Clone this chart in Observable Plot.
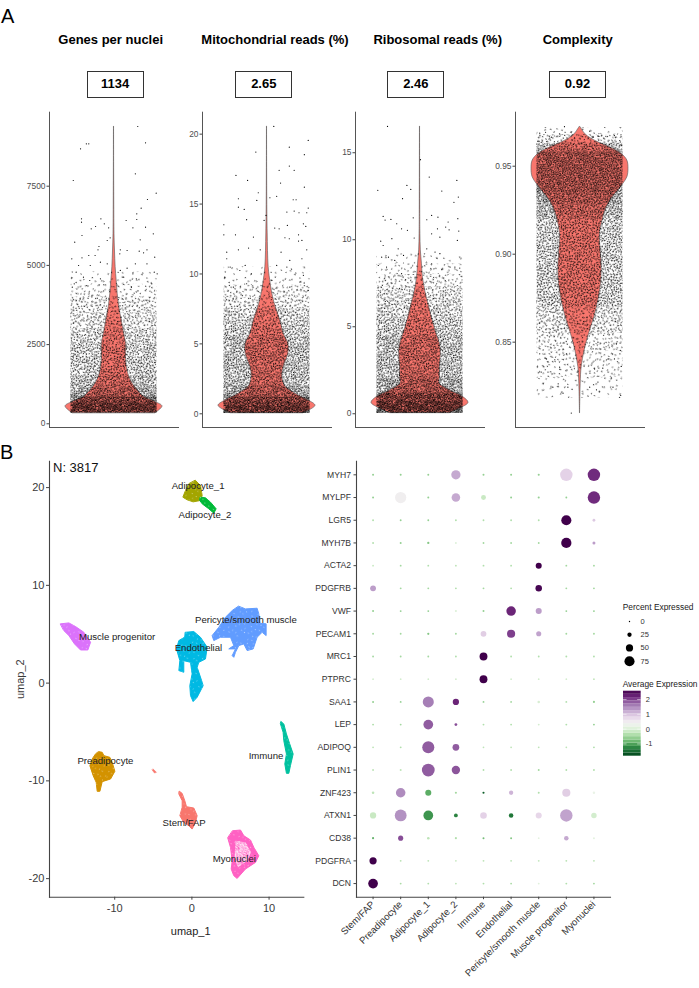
<!DOCTYPE html>
<html><head><meta charset="utf-8">
<script src="https://cdn.jsdelivr.net/npm/d3@7"></script>
<script src="https://cdn.jsdelivr.net/npm/@observablehq/plot@0.6"></script>
<style>
html,body{margin:0;padding:0;background:#fff}
#page{position:relative;width:699px;height:988px;overflow:hidden;font-family:"Liberation Sans",Arial,sans-serif;color:#000}
#page svg{position:absolute;overflow:visible}
.t{position:absolute;white-space:nowrap}
.head{font-weight:bold;font-size:13px;transform:translateX(-50%)}
.box{border:1.2px solid #333;box-sizing:border-box;font-weight:bold;font-size:13px;text-align:center;line-height:24px;height:26.5px;width:57px}
.tag{font-size:20px}
.leg{font-size:8.4px;color:#222}
</style></head><body><div id="page"></div>
<script>
// ---------- panel A: violins. outline rows = [value, half width (1 = widest)]
const genesOutline=[[337,.86],[547,1],[684,.86],[842,.62],[947,.55],[1262,.385],[1578,.295],[2000,.25],[2525,.25],[2840,.21],[3261,.16],[3682,.11],[4103,.076],[4524,.055],[4944,.034],[5470,.02],[5996,.01],[7048,.005],[9384,.001]];
const mitoOutline=[[.05,.76],[.57,1],[.95,.86],[1.31,.65],[1.67,.48],[1.91,.385],[2.62,.316],[3.34,.344],[4.29,.44],[5,.44],[5.72,.344],[6.68,.275],[7.63,.18],[8.58,.11],[9.3,.076],[10.5,.034],[12.9,.014],[15.26,.0055],[20.55,.001]];
const riboOutline=[[.04,.62],[.34,.86],[.63,1],[.96,.89],[1.34,.62],[1.72,.41],[2.11,.41],[2.68,.41],[3.45,.43],[4.02,.41],[4.6,.34],[5.36,.26],[6.13,.19],[6.9,.12],[7.85,.06],[8.62,.04],[9.39,.017],[10.34,.008],[11.49,.005],[16.51,.001]];
const complexityOutline=[[.8097,.001],[.8263,.014],[.8358,.034],[.8453,.096],[.8547,.186],[.8642,.296],[.8737,.378],[.8831,.433],[.8926,.447],[.9021,.426],[.9116,.412],[.921,.481],[.9267,.55],[.9324,.674],[.9362,.79],[.94,.893],[.9437,.976],[.9485,1],[.9532,.976],[.957,.859],[.9598,.687],[.9627,.447],[.9655,.24],[.9684,.103],[.9712,.034],[.9725,.001]];

// density of the jittered points per value band: [from, to, points per square pixel]
const genesBands=[[337,650,.8],[650,850,.65],[850,1134,.4],[1134,1500,.3],[1500,2500,.25],[2500,3000,.2],[3000,3500,.16],[3500,4000,.125],[4000,4400,.06],[4400,4800,.03]];
const mitoBands=[[.02,.6,.8],[.6,1.2,.65],[1.2,2,.4],[2,5.5,.3],[5.5,6.5,.25],[6.5,7.5,.2],[7.5,8.3,.125],[8.3,9.2,.09],[9.2,10.5,.03]];
const riboBands=[[.02,.7,.8],[.7,1.2,.65],[1.2,2,.4],[2,4.5,.3],[4.5,5.5,.25],[5.5,6.5,.2],[6.5,7.3,.16],[7.3,8,.09],[8,8.6,.05],[8.6,9.2,.025]];
const complexityBands=[[.818,.83,.03],[.83,.845,.06],[.845,.855,.09],[.855,.87,.16],[.87,.92,.25],[.92,.928,.33],[.928,.935,.4],[.935,.958,.5],[.958,.963,.3],[.963,.968,.125],[.968,.972,.03]];

// sparse points: [jitter, value]
const genesDots=[[-.69,8679],[-.57,8837],[-.52,8837],[.49,9384],[.65,8868],[.44,7890],[-.84,7680],[.87,7280],[.69,7080],[.56,6806],[.47,6628],[.47,6449],[.25,6417],[-.27,6470],[-.67,6470],[-.67,6365],[-.47,6154],[-.38,6228],[-.2,6312],[-.11,6186],[.39,6186],[.65,6207],[.81,5996],[-.66,5944],[-.81,5733],[-.08,5870],[-.14,5786],[.54,5807],[-.31,5597],[-.33,5491],[.13,5491],[.27,5470],[.12,5365],[.52,5449],[.68,5491],[.61,5397],[-.52,5313],[-.39,5313],[-.66,5239],[-.87,5207],[.84,5260],[-.73,4997],[-.78,4787],[-.49,4997],[-.28,5102],[-.14,5050],[.13,4840],[.27,4913],[.44,5050],[.68,5050],[.83,4787],[.89,4734],[.39,4734],[.46,4576],[-.63,4629],[-.5,4524],[-.86,4313],[-.82,4418],[-.28,4576],[.78,4418],[-.56,4366],[.36,4313],[.2,4629]];
const mitoDots=[[.14,20.55],[.85,19.55],[.46,19.07],[.77,18.53],[-.23,18.72],[-.64,17.05],[-.4,16.69],[.25,17.41],[.46,17.72],[.56,17.41],[.28,16.5],[.77,16.21],[-.18,15.81],[-.21,15.26],[-.59,15.38],[.2,15.55],[.06,15.45],[.54,15.31],[.6,15.31],[-.59,14.78],[-.47,14.62],[.85,14.71],[.41,14.43],[.56,14.5],[.66,14.38],[.82,14.38],[-.02,14.19],[-.06,13.83],[-.42,13.88],[-.89,13.52],[.75,13.59],[.8,13.4],[.42,13.47],[.16,13.28],[.25,13.23],[.65,12.8],[-.89,12.8],[-.65,12.8],[-.28,12.64],[.37,12.59],[.46,12.52],[.65,12.35],[.72,12.4],[-.59,11.73],[-.38,11.85],[-.14,11.73],[-.83,11.56],[.29,11.56],[.82,11.73],[-.83,11.09],[.47,10.97],[.72,11.09],[-.76,10.49],[-.45,10.61],[.2,10.61],[.41,10.49],[.75,9.9],[-.56,10.25],[-.87,9.78],[-.32,10.01],[.1,9.54],[.47,9.06],[.68,9.42],[.85,8.82],[-.69,9.06],[-.42,9.3]];
const riboDots=[[-.67,16.51],[.01,14.6],[.19,13.6],[.76,13.41],[-.27,13.12],[-.19,12.89],[-.87,12.84],[.45,12.8],[.79,12.45],[-.36,12.36],[.7,12.15],[-.76,11.34],[-.6,11.17],[-.14,11.26],[.24,11.4],[.37,11.3],[.14,11.15],[-.72,11.13],[-.48,10.92],[.58,11.02],[.78,11.21],[-.38,10.63],[-.26,10.54],[.36,10.63],[.53,10.73],[.6,10.57],[.8,10.5],[.24,10.34],[.41,10.15],[-.12,10.1],[-.58,10.06],[-.81,9.92],[.77,9.96],[-.76,9.67],[-.45,9.48],[.14,9.48],[.31,9.29],[.41,9.2],[-.65,9],[-.34,9.1],[-.79,9],[-.52,8.81],[.24,8.62],[.62,8.43],[.82,8.37],[-.86,8.52],[.45,8.28],[-.38,8.05],[.72,8.43],[-.69,8.43],[-.1,7.85]];
const complexityDots=[[-.32,.9725],[-.83,.9688],[-.71,.9693],[-.42,.9684],[-.59,.9665],[.2,.9699],[.39,.9669],[.71,.9674],[.27,.9665],[-.87,.9642],[.82,.9646],[.85,.9617],[-.8,.9636],[.61,.9623],[-.18,.8097],[.84,.8197],[-.56,.8244],[-.35,.821],[-.45,.8263],[-.25,.8244],[.34,.8229],[.2,.8244],[.68,.8244],[.37,.8273],[-.8,.833],[-.66,.833],[-.42,.8358],[-.52,.84],[-.69,.8405],[.3,.8348],[.47,.8352],[.85,.8362],[.71,.8405],[.58,.8405],[-.83,.8434],[-.28,.8434],[.27,.8462],[.37,.85],[.75,.849],[.83,.8453]];

const genesTicks=[0,2500,5000,7500], mitoTicks=[0,5,10,15,20], riboTicks=[0,5,10,15], complexityTicks=[.85,.9,.95];
const violinTitles=["Genes per nuclei","Mitochondrial reads (%)","Ribosomal reads (%)","Complexity"];
const medians=["1134","2.65","2.46","0.92"];

// ---------- panel B: UMAP outlines [umap_1, umap_2]
const clusterNames=["Adipocyte_1","Adipocyte_2","Pericyte/smooth muscle","Endothelial","Muscle progenitor","Immune","Preadipocyte","Stem/FAP","Myonuclei"];
const clusterColors=["#A3A500","#00BA38","#619CFF","#00B9E3","#DB72FB","#00C19F","#D39200","#F8766D","#FF61C3"];
const adipocyte1=[[.47,20.73],[1.11,20.21],[1.33,19.19],[1.11,18.68],[.16,18.54],[-.61,18.75],[-1.17,19.02],[-.83,19.7],[-.4,20.38]];
const adipocyte2=[[1.11,19.02],[1.76,18.95],[2.41,18.51],[3.14,17.83],[2.84,17.38],[2.19,17.83],[1.33,18.34],[1.03,18.68]];
const pericyte=[[6.08,7.86],[6.95,7.59],[8.45,7.66],[8.67,7.08],[8.8,6.12],[9.62,6.06],[9.62,4.86],[9.1,5.2],[8.45,4.69],[7.94,3.5],[7.16,3.33],[6.73,4.01],[6.08,3.84],[5.65,3.16],[5.43,2.64],[5.22,2.81],[5.65,3.5],[4.78,3.5],[5.43,3.84],[5,4.69],[3.7,4.69],[2.84,4.35],[2.62,4.86],[3.49,5.71],[4.35,6.74],[5.22,7.42]];
const endothelial=[[-.83,5.2],[.25,5.27],[1.11,4.69],[1.98,3.67],[1.76,2.47],[.9,2.13],[.68,1.62],[1.33,.09],[1.46,-.26],[.68,-1.45],[.16,-1.89],[-.18,-1.28],[-.27,-.26],[.03,.94],[-.18,2.13],[-1.05,2.3],[-1.05,1.11],[-1.69,1.28],[-1.56,2.3],[-2,3.5],[-1.69,4.35],[-.96,4.69]];
const muscleProgenitor=[[-17.02,6.06],[-15.94,6.16],[-15.07,5.78],[-14,5.2],[-13.13,4.18],[-13.48,3.39],[-14.43,3.39],[-15.21,4.01],[-15.94,4.86],[-16.59,5.37]];
const immune=[[11.56,-3.94],[11.91,-4.18],[12.25,-5.2],[12.68,-6.23],[13.12,-7.25],[12.77,-8.44],[12.56,-9.23],[12.25,-9.23],[12.04,-8.27],[12.25,-7.25],[11.91,-5.89],[11.82,-5.03],[11.48,-4.18]];
const preadipocyte=[[-12.05,-7.01],[-11.62,-7.08],[-11.4,-7.42],[-10.63,-7.59],[-10.33,-8.1],[-9.98,-9.02],[-10.54,-9.81],[-11.62,-10.08],[-11.92,-11.07],[-12.27,-11.07],[-12.4,-10.15],[-12.79,-9.47],[-13.22,-8.45],[-12.92,-7.76],[-12.49,-7.25]];
const stemFap=[[-1.61,-11.07],[-1.26,-11.28],[-.92,-12.03],[-.7,-12.64],[.25,-12.78],[.68,-13.56],[.47,-14.25],[.03,-14.93],[-.4,-14.59],[-1.05,-14.25],[-1.56,-13.56],[-1.26,-12.71],[-1.26,-12.03],[-1.69,-11.34]];
const myonuclei=[[5.3,-15.1],[6.3,-15.03],[6.73,-15.61],[7.59,-16.05],[8.02,-16.8],[8.67,-17.66],[8.24,-18.34],[6.94,-19.02],[5.86,-19.98],[5.43,-19.7],[5.09,-19.02],[5.22,-18.17],[5,-16.8],[4.65,-15.85]];
const clusterOutlines=[adipocyte1,adipocyte2,pericyte,endothelial,muscleProgenitor,immune,preadipocyte,stemFap,myonuclei];
const myonucleiSparse=[[5.65,-16.12],[6.94,-16.29],[7.68,-17.31],[7.16,-18.17],[5.95,-18.85],[5.52,-17.83]];
const strayCluster=[[-5.02,-8.79],[-4.59,-9.13],[-4.85,-9.2],[-5.15,-8.89]];
const clusterLabelX=[.8,1.7,7,.85,-9.7,9.6,-11.2,-1,5.5];
const clusterLabelY=[20.2,17.25,6.5,3.63,4.7,-7.4,-7.93,-14.3,-18];
const nucleiCount="N: 3817";
const umapXTitle="umap_1", umapYTitle="umap_2";

// ---------- panel B: dot plot
const markerGenes=["MYH7","MYLPF","LGR5","MYH7B","ACTA2","PDGFRB","VWF","PECAM1","MRC1","PTPRC","SAA1","LEP","ADIPOQ","PLIN1","ZNF423","ATXN1","CD38","PDGFRA","DCN"];
const cellTypes=["Stem/FAP","Preadipocyte","Adipocyte_1","Adipocyte_2","Immune","Endothelial","Pericyte/smooth muscle","Muscle progenitor","Myonuclei"];
const percentRows=[
[5,5,5,68,5,5,6,95,95],
[5,85,5,62,30,5,6,4,95],
[4,4,4,4,4,4,4,75,12],
[4,5,8,4,4,4,4,76,14],
[4,4,4,4,4,4,40,4,4],
[38,4,4,4,4,4,44,4,4],
[5,4,4,6,5,70,40,4,4],
[4,4,7,4,38,58,32,4,4],
[4,4,4,4,56,4,4,4,4],
[3,3,3,3,56,3,3,3,3],
[5,4,83,42,4,4,10,4,6],
[5,4,72,12,4,4,4,4,4],
[4,4,92,46,3,3,3,3,4],
[5,5,98,60,4,4,5,4,4],
[10,70,40,6,6,25,5,58,9],
[42,90,72,21,45,27,40,95,35],
[6,32,10,6,5,5,3,27,5],
[50,4,4,4,4,4,4,4,4],
[72,4,4,4,4,4,4,4,4]];
const averageRows=[
[-.6,-.6,-.6,1.2,-.6,-.6,-.6,.8,2.15],
[-.6,.42,-.6,1.2,-.2,-.6,-.6,-.6,2.15],
[-.4,-.6,-.6,-.4,-.4,-.4,-.4,2.56,.9],
[-.4,-.6,-.7,0,-.5,-.5,-.5,2.56,1.3],
[-.2,-.5,-.4,-.3,-.4,-.4,2.56,-.5,-.5],
[1.3,-.5,-.5,-.4,-.5,-.4,2.5,-.5,-.5],
[-.6,-.6,-.6,0,-.6,2.2,1.3,-.6,-.6],
[-.5,-.5,-.7,-.5,.85,2,1.25,-.5,-.5],
[-.5,-.5,-.5,-.4,2.56,-.4,-.4,-.4,-.4],
[-.1,-.1,-.1,-.1,2.56,-.1,-.1,-.1,-.3],
[-.6,-.6,1.55,2.2,-.6,-.5,-.05,-.4,-.6],
[-.4,-.5,1.8,1.9,-.4,-.4,-.1,-.4,-.6],
[-.3,-.4,1.8,1.8,-.3,-.3,-.3,-.3,-.4],
[-.3,-.3,1.8,1.85,-.4,-.4,-.5,-.4,-.4],
[-.3,1.45,-.95,-.5,-1.6,1.1,-.4,.85,.2],
[-.2,1.4,-1.15,-1.3,.8,-1.4,.75,1.25,-.1],
[-.9,1.9,-.3,-.4,-.8,-.7,.1,1.2,.1],
[2.56,-.35,-.3,-.2,-.3,-.3,-.25,-.35,-.3],
[2.56,-.45,-.4,-.3,-.4,-.45,.05,-.4,-.5]];
const legendPercents=[0,25,50,75];
const colorbarSteps=[-1.83,-1.61,-1.39,-1.17,-.95,-.73,-.51,-.29,-.07,.15,.37,.59,.81,1.03,1.25,1.47,1.69,1.91,2.13,2.35,2.56];
const colorbarTicks=[-1,0,1,2];

// hand-placed speckle tile (a fill texture for the density bands, in tile pixels)
const speckle=[[2,3],[7,16],[12,5],[17,14],[22,2],[5,9],[10,13],[15,1],[20,8],[3,17],[13,18],[18,5],[23,13],[8,1],[1,12],
[5,14],[10,7],[15,11],[20,18],[0,7],[12,1],[7,11],[6,5],[11,17],[16,8],[21,11],[2,19],[14,14],[19,2],[9,10],
[4,6],[9,3],[14,8],[19,11],[1,15],[6,18],[11,10],[16,17],[21,4],[3,12],[8,14],[13,3],[18,9],[23,17],[4,19],
[10,0],[15,5],[20,14],[0,2],[5,11],[12,13],[17,0],[22,9],[7,8],[2,9],[9,18],[14,11],[18,17],[22,19],[11,4]];

const page=document.getElementById("page");
const FONT='"Liberation Sans",Arial,sans-serif';
const place=(el,left,top)=>{el.style.position="absolute";el.style.left=left+"px";el.style.top=top+"px";page.appendChild(el);return el;};
const label=(cls,text,left,top)=>{const d=document.createElement("div");d.className="t "+cls;d.textContent=text;return place(d,left,top);};
const plain=d=>`${d}`;
const sp=(kind,d)=>`url(#${kind}${Math.round(d*1000)})`;

// speckle patterns: each density is two overlaid tiles turned different ways
{
  const s=d3.create("svg").attr("width",0).attr("height",0).style("left",0).style("top",0);
  const defs=s.append("defs");
  const add=(id,density,angle,color,r)=>{
    const scale=Math.sqrt(60/(480*density));
    const p=defs.append("pattern").attr("id",id).attr("patternUnits","userSpaceOnUse")
      .attr("width",24*scale).attr("height",20*scale).attr("patternTransform",`rotate(${angle})`);
    speckle.forEach(d=>p.append("circle").attr("cx",d[0]*scale+.3).attr("cy",d[1]*scale+.3).attr("r",r).attr("fill",color));
  };
  const all=new Set([...genesBands,...mitoBands,...riboBands,...complexityBands].map(b=>b[2]));
  all.forEach(d=>{const k=Math.round(d*1000);add("spa"+k,d/2,23,"#000",.6);add("spb"+k,d/2,-58,"#000",.6);});
  add("wsp40",.04,37,"#fff",.45);
  add("wsp600",.6,37,"#fff",.62);
  page.appendChild(s.node());
}

// titles and median boxes
label("tag","A",1,5);
label("tag","B",0,441);
[110.7,275,437.7,577.7].forEach((x,i)=>label("head",violinTitles[i],x,32));
[86.7,235.3,387.3,549].forEach((x,i)=>label("box",medians[i],x,71.3));

// violins
const violinPanels=[
 {axis:49.3,top:9836,bottom:-117,ticks:genesTicks,outline:genesOutline,bands:genesBands,dots:genesDots,fmt:"d"},
 {axis:202,top:21.57,bottom:-.98,ticks:mitoTicks,outline:mitoOutline,bands:mitoBands,dots:mitoDots,fmt:"d"},
 {axis:355.3,top:17.33,bottom:-.79,ticks:riboTicks,outline:riboOutline,bands:riboBands,dots:riboDots,fmt:"d"},
 {axis:515.3,top:.9807,bottom:.8015,ticks:complexityTicks,outline:complexityOutline,bands:complexityBands,dots:complexityDots,fmt:".2f"}];
violinPanels.forEach(p=>{
  const svg=Plot.plot({
    width:172,height:330,marginLeft:40,marginRight:3,marginTop:11.7,marginBottom:3,
    style:{fontFamily:FONT,fontSize:"8.4px",background:"transparent"},
    x:{domain:[-1.33,1.33],axis:null},
    y:{domain:[p.bottom,p.top]},
    color:{type:"identity"},
    marks:[
      Plot.areaX(p.outline,{y:d=>d[0],x1:d=>-d[1],x2:d=>d[1],fill:"#F8766D",stroke:"#555",strokeWidth:.6,curve:"catmull-rom"}),
      Plot.rect(p.bands,{x1:-.887,x2:.887,y1:d=>d[0],y2:d=>d[1],fill:d=>sp("spa",d[2])}),
      Plot.rect(p.bands,{x1:-.887,x2:.887,y1:d=>d[0],y2:d=>d[1],fill:d=>sp("spb",d[2])}),
      Plot.dot(p.dots,{x:d=>d[0],y:d=>d[1],r:.6,fill:"#000"}),
      Plot.frame({anchor:"left",stroke:"#555",strokeWidth:1}),
      Plot.frame({anchor:"bottom",stroke:"#555",strokeWidth:1}),
      Plot.axisY(p.ticks,{label:null,tickSize:2.5,tickPadding:1.5,tickFormat:p.fmt,stroke:"#444",fill:"#4d4d4d"})
    ]});
  place(svg,p.axis-40,100);
});

// UMAP
const clusterRows=clusterNames.flatMap((n,i)=>clusterOutlines[i].map(d=>({name:n,u1:d[0],u2:d[1]})));
const clusterLabels=clusterNames.map((n,i)=>({name:n,u1:clusterLabelX[i],u2:clusterLabelY[i]}));
const umap=Plot.plot({
  width:310,height:500,marginLeft:49,marginRight:6.7,marginTop:10.7,marginBottom:53.3,
  style:{fontFamily:FONT,fontSize:"11px",background:"transparent"},
  x:{domain:[-18.45,14.5]},
  y:{domain:[-21.9,22.7]},
  color:{domain:clusterNames,range:clusterColors},
  marks:[
    Plot.line(clusterRows,{x:"u1",y:"u2",z:"name",fill:"name",stroke:"name",strokeWidth:1,curve:"linear-closed"}),
    Plot.line(clusterRows,{x:"u1",y:"u2",z:"name",fill:"url(#wsp40)",stroke:"none",curve:"linear-closed"}),
    Plot.line(myonucleiSparse,{x:d=>d[0],y:d=>d[1],fill:"url(#wsp600)",stroke:"none",curve:"linear-closed"}),
    Plot.line(strayCluster,{x:d=>d[0],y:d=>d[1],fill:"#F8766D",stroke:"#F8766D",strokeWidth:.5,curve:"linear-closed"}),
    Plot.text(clusterLabels,{x:"u1",y:"u2",text:"name",fontSize:9.6,fill:"#222"}),
    Plot.text([nucleiCount],{frameAnchor:"top-left",dx:3.5,dy:2,fontSize:13,fill:"#111"}),
    Plot.text([umapXTitle],{frameAnchor:"bottom",dx:14,dy:38,fill:"#222"}),
    Plot.frame({anchor:"left",stroke:"#444",strokeWidth:1.1}),
    Plot.frame({anchor:"bottom",stroke:"#444",strokeWidth:1.1}),
    Plot.axisX([-10,0,10],{label:null,tickSize:3,tickPadding:4,tickFormat:plain,stroke:"#444",fill:"#3a3a3a"}),
    Plot.axisY([-20,-10,0,10,20],{label:umapYTitle,labelAnchor:"center",labelArrow:"none",labelOffset:33,tickSize:3,tickPadding:2,tickFormat:plain,stroke:"#444",fill:"#3a3a3a"})
  ]});
place(umap,0,450);

// dot plot
const dotRows=markerGenes.flatMap((g,i)=>cellTypes.map((c,j)=>({gene:g,cell:c,pct:percentRows[i][j],avg:averageRows[i][j]})));
const rScale={type:"linear",domain:[0,100],range:[.7,6.5]};
const prgn={type:"linear",scheme:"PRGn",reverse:true,domain:[-1.83,2.56]};
const dotplot=Plot.plot({
  width:320,height:557,marginLeft:56,marginRight:10,marginTop:10.7,marginBottom:110.3,
  style:{fontFamily:FONT,fontSize:"8.6px",background:"transparent"},
  x:{type:"point",domain:cellTypes,padding:.6,round:false},
  y:{type:"point",domain:markerGenes,padding:.6,round:false},
  r:rScale,color:prgn,
  marks:[
    Plot.dot(dotRows,{x:"cell",y:"gene",r:"pct",fill:"avg"}),
    Plot.frame({anchor:"left",stroke:"#444",strokeWidth:1.1}),
    Plot.frame({anchor:"bottom",stroke:"#444",strokeWidth:1.1}),
    Plot.axisX({label:null,tickRotate:-45,tickSize:2.5,tickPadding:3,fontSize:9.6,stroke:"#444",fill:"#333"}),
    Plot.axisY({label:null,tickSize:2.5,tickPadding:3,stroke:"#444",fill:"#333"})
  ]});
place(dotplot,300,450);

// legends
label("leg","Percent Expressed",622.7,602);
label("leg","Average Expression",622.7,678.5);
const sizeLegend=Plot.plot({
  width:40,height:60,marginLeft:0,marginRight:20,marginTop:11,marginBottom:9.3,
  style:{fontFamily:FONT,fontSize:"7.5px",background:"transparent"},
  x:{type:"point",domain:["key"],axis:null,round:false},
  y:{type:"point",domain:legendPercents,padding:0,round:false},
  r:rScale,
  marks:[
    Plot.dot(legendPercents,{x:()=>"key",y:d=>d,r:d=>d,fill:"#000"}),
    Plot.axisY(legendPercents,{anchor:"right",label:null,tickSize:0,tickPadding:1,fill:"#333"})
  ]});
place(sizeLegend,619.3,610);
const colorRows=colorbarSteps.slice(0,-1).map((v,i)=>({lo:v,hi:colorbarSteps[i+1]}));
const barLegend=Plot.plot({
  width:40,height:70,marginLeft:0,marginRight:22.3,marginTop:2.7,marginBottom:2.3,
  style:{fontFamily:FONT,fontSize:"7.5px",background:"transparent"},
  x:{domain:[0,1],axis:null},
  y:{domain:[-1.83,2.56]},
  color:prgn,
  marks:[
    Plot.rect(colorRows,{x1:0,x2:1,y1:"lo",y2:"hi",fill:d=>(d.lo+d.hi)/2}),
    Plot.ruleY(colorbarTicks,{x1:0,x2:.2,stroke:"#fff",strokeWidth:.5}),
    Plot.ruleY(colorbarTicks,{x1:.8,x2:1,stroke:"#fff",strokeWidth:.5}),
    Plot.axisY(colorbarTicks,{anchor:"right",label:null,tickSize:0,tickPadding:4.6,tickFormat:plain,fill:"#333"})
  ]});
place(barLegend,622.7,688);
</script></body></html>
